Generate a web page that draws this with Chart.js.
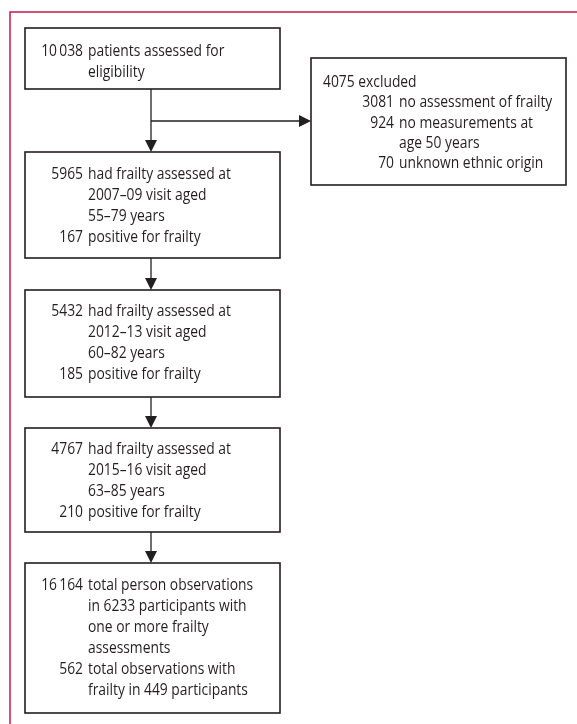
<!DOCTYPE html>
<html>
<head>
<meta charset="utf-8">
<script src="https://cdn.jsdelivr.net/npm/chart.js@4/dist/chart.umd.min.js"></script>
<style>
  html, body { margin: 0; padding: 0; background: #ffffff; }
  canvas { display: block; }
</style>
</head>
<body>
<canvas id="c" width="577" height="724"></canvas>
<script>
// ---- data ----
const assessedForEligibility = 10038;
const excludedTotal = 4075;
const excludedCounts = [3081, 924, 70];
const excludedReasons = [["no assessment of frailty"], ["no measurements at", "age 50 years"], ["unknown ethnic origin"]];
const visitPeriods = ["2007–09", "2012–13", "2015–16"];
const ageRanges = ["55–79", "60–82", "63–85"];
const assessedCounts = [5965, 5432, 4767];
const frailPositive = [167, 185, 210];
const totalObservations = 16164;
const totalParticipants = 6233;
const frailObservations = 562;
const frailParticipants = 449;

function fmt(n) {
  const s = String(n);
  return n >= 10000 ? s.slice(0, s.length - 3) + "\u2009" + s.slice(-3) : s;
}

// ---- text lines per box, built from data ----
const boxTexts = [];
boxTexts.push([[fmt(assessedForEligibility), "patients assessed for"], ["", "eligibility"]]);
const exLines = [[null, fmt(excludedTotal) + " excluded"]];
excludedCounts.forEach((c, i) => {
  excludedReasons[i].forEach((t, j) => exLines.push([j === 0 ? fmt(c) : "", t]));
});
boxTexts.push(exLines);
for (let i = 0; i < assessedCounts.length; i++) {
  boxTexts.push([
    [fmt(assessedCounts[i]), "had frailty assessed at"],
    ["", visitPeriods[i] + " visit aged"],
    ["", ageRanges[i] + " years"],
    [fmt(frailPositive[i]), "positive for frailty"]
  ]);
}
boxTexts.push([
  [fmt(totalObservations), "total person observations"],
  ["", "in " + fmt(totalParticipants) + " participants with"],
  ["", "one or more frailty"],
  ["", "assessments"],
  [fmt(frailObservations), "total observations with"],
  ["", "frailty in " + fmt(frailParticipants) + " participants"]
]);

// ---- layout (page coordinates) ----
const layout = [
  { x0: 25, x1: 280, y0: 28, y1: 89, base: 56, lh: 21, numX: 83, txtX: 88, headX: 0 },
  { x0: 311, x1: 566, y0: 58, y1: 185, base: 87, lh: 20.3, numX: 394, txtX: 399, headX: 323 },
  { x0: 25, x1: 280, y0: 152, y1: 258, base: 179, lh: 20.9, numX: 83, txtX: 88 },
  { x0: 25, x1: 280, y0: 290, y1: 397, base: 316, lh: 20.9, numX: 83, txtX: 88 },
  { x0: 25, x1: 280, y0: 428, y1: 532, base: 454, lh: 21, numX: 83, txtX: 88 },
  { x0: 25, x1: 280, y0: 563, y1: 713, base: 590, lh: 21, numX: 83, txtX: 88 }
];
const mainFlow = [0, 2, 3, 4, 5];
const spineX = 151, branchY = 121;
const INK = "#231f20", FRAME = "#c8174b";
const FONT = "16px 'Open Sans'";
const SQUEEZE = 0.865;

const flowPlugin = {
  id: "flow",
  afterDraw(chart) {
    const ctx = chart.ctx, xs = chart.scales.x, ys = chart.scales.y;
    const X = v => xs.getPixelForValue(v), Y = v => ys.getPixelForValue(v);
    ctx.save();
    // frame
    ctx.strokeStyle = FRAME; ctx.lineWidth = 1.5;
    ctx.beginPath();
    ctx.moveTo(X(10), Y(730)); ctx.lineTo(X(10), Y(12)); ctx.lineTo(X(580), Y(12));
    ctx.stroke();
    // boxes
    ctx.strokeStyle = INK; ctx.lineWidth = 1.6;
    layout.forEach(b => {
      ctx.strokeRect(X(b.x0), Y(b.y0), X(b.x1) - X(b.x0), Y(b.y1) - Y(b.y0));
    });
    // arrows
    ctx.fillStyle = INK; ctx.lineWidth = 1.3;
    function arrowDown(x, yFrom, yTo) {
      ctx.beginPath(); ctx.moveTo(X(x), Y(yFrom)); ctx.lineTo(X(x), Y(yTo - 11)); ctx.stroke();
      ctx.beginPath(); ctx.moveTo(X(x - 6), Y(yTo - 12)); ctx.lineTo(X(x + 6), Y(yTo - 12)); ctx.lineTo(X(x), Y(yTo)); ctx.closePath(); ctx.fill();
    }
    function arrowRight(y, xFrom, xTo) {
      ctx.beginPath(); ctx.moveTo(X(xFrom), Y(y)); ctx.lineTo(X(xTo - 11), Y(y)); ctx.stroke();
      ctx.beginPath(); ctx.moveTo(X(xTo - 12), Y(y - 6)); ctx.lineTo(X(xTo - 12), Y(y + 6)); ctx.lineTo(X(xTo), Y(y)); ctx.closePath(); ctx.fill();
    }
    for (let i = 0; i < mainFlow.length - 1; i++) {
      arrowDown(spineX, layout[mainFlow[i]].y1, layout[mainFlow[i + 1]].y0);
    }
    arrowRight(branchY, spineX, layout[1].x0);
    // text (slightly condensed to match the narrow original face)
    ctx.font = FONT; ctx.fillStyle = INK; ctx.textBaseline = "alphabetic";
    function put(text, x, y, align) {
      ctx.save();
      ctx.translate(x, y); ctx.scale(SQUEEZE, 1);
      ctx.textAlign = align; ctx.fillText(text, 0, 0);
      ctx.restore();
    }
    boxTexts.forEach((lines, bi) => {
      const b = layout[bi];
      lines.forEach((ln, li) => {
        const y = Y(b.base + li * b.lh);
        if (ln[0] === null) {
          put(ln[1], X(b.headX), y, "left");
        } else {
          if (ln[0]) put(ln[0], X(b.numX), y, "right");
          put(ln[1], X(b.txtX), y, "left");
        }
      });
    });
    ctx.restore();
  }
};

new Chart(document.getElementById("c"), {
  type: "scatter",
  data: { datasets: [{ data: [], pointRadius: 0 }] },
  options: {
    responsive: false, animation: false, devicePixelRatio: 1,
    layout: { padding: 0 },
    plugins: { legend: { display: false }, tooltip: { enabled: false } },
    scales: {
      x: { type: "linear", min: 0, max: 577, display: false },
      y: { type: "linear", min: 0, max: 724, reverse: true, display: false }
    }
  },
  plugins: [flowPlugin]
});
</script>
</body>
</html>
